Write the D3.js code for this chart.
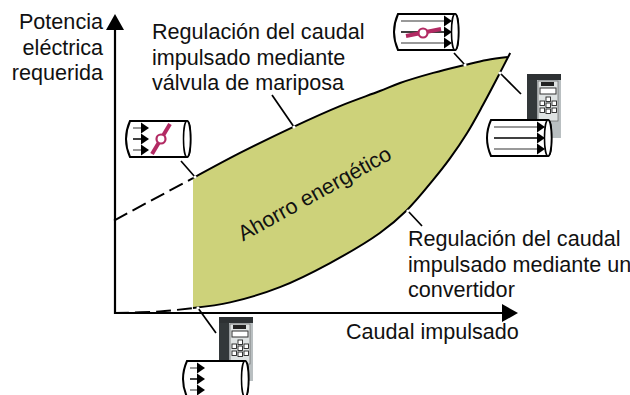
<!DOCTYPE html>
<html>
<head>
<meta charset="utf-8">
<script src="https://d3js.org/d3.v7.min.js"></script>
<style>
body { margin: 0; background: #fff; }
text { font-family: "Liberation Sans", Arial, sans-serif; font-size: 21.6px; fill: #111; }
</style>
</head>
<body>
<svg id="chart" width="630" height="395"></svg>
<script>
// values (flow %, power %)
const valveFlow = [0, 20, 31.9, 45.3, 57.2, 67.3, 72.4, 80.8, 88.9, 94.4, 99.7];
const valvePower = [35.7, 52.1, 61.8, 71.8, 79.9, 85.7, 88.8, 92.7, 95.8, 97.7, 98.8];
const driveFlow = [0, 11.6, 20, 29.4, 42, 54.7, 67.3, 74.2, 80.8, 85.1, 89.4, 93.4, 97.7, 100.3];
const drivePower = [0, 0.6, 1.9, 4.1, 10, 19.3, 30.9, 39.8, 51.4, 59.8, 69.5, 80.3, 92.7, 100.4];
const startFlow = 20;

const svg = d3.select("#chart");
const x = d3.scaleLinear().domain([0, 100]).range([114, 509]);
const y = d3.scaleLinear().domain([0, 100]).range([313, 54]);

const valvePts = valveFlow.map((f, i) => [f, valvePower[i]]);
const drivePts = driveFlow.map((f, i) => [f, drivePower[i]]);
const line = d3.line().x(d => x(d[0])).y(d => y(d[1])).curve(d3.curveCatmullRom.alpha(0.5));

// energy saving area, closed between the two curves
const solidValve = valvePts.filter(d => d[0] >= startFlow);
const solidDrive = drivePts.filter(d => d[0] >= startFlow);
const upperPath = line(solidValve);
const lowerBack = line(solidDrive.slice().reverse());
svg.append("path")
    .attr("d", upperPath + "L" + lowerBack.slice(1) + "Z")
    .attr("fill", "#cdd27a");

// curves
const curve = (pts, dash) => svg.append("path")
    .attr("d", line(pts))
    .attr("fill", "none")
    .attr("stroke", "#000")
    .attr("stroke-width", 2)
    .attr("stroke-dasharray", dash);
curve(solidValve, null);
curve(solidDrive, null);
curve(valvePts.filter(d => d[0] <= startFlow), "15 6");
curve(drivePts.filter(d => d[0] <= startFlow), "15 6");

// axes
const stroke = (a, b, w) => svg.append("line")
    .attr("x1", a[0]).attr("y1", a[1]).attr("x2", b[0]).attr("y2", b[1])
    .attr("stroke", "#000").attr("stroke-width", w || 2);
stroke([115, 314], [115, 28], 2.2);
stroke([114, 313], [505, 313], 2.2);
svg.append("path").attr("d", "M115,14L124,30L106,30Z").attr("fill", "#000");
svg.append("path").attr("d", "M518,313L502,304L502,322Z").attr("fill", "#000");

// leader lines with a white dot where they touch the curve
function leader(a, b) {
    stroke(a, b, 1.7);
    svg.append("circle").attr("cx", b[0]).attr("cy", b[1]).attr("r", 1.6).attr("fill", "#fff");
}
leader([181, 161], [195, 177]);
leader([454, 53], [465, 65]);
leader([521, 94], [500, 73]);
leader([216, 333], [198, 308]);
leader([272, 95], [294, 127]);
leader([422, 226], [408, 211]);

// frequency converter
function inverter(px, py) {
    const c = svg.append("g").attr("transform", `translate(${px},${py})`);
    c.append("rect").attr("width", 34).attr("height", 64).attr("fill", "#b9bfc1");
    c.append("rect").attr("width", 34).attr("height", 6).attr("fill", "#2d3133");
    c.append("rect").attr("y", 6).attr("width", 10).attr("height", 46).attr("fill", "#33383a");
    c.append("rect").attr("x", 11).attr("y", 7).attr("width", 20).attr("height", 40)
        .attr("fill", "#dfe3e3").attr("stroke", "#666").attr("stroke-width", 0.7);
    c.append("rect").attr("x", 14).attr("y", 8).attr("width", 13).attr("height", 4).attr("fill", "#222");
    c.append("rect").attr("x", 13).attr("y", 14).attr("width", 16).attr("height", 6)
        .attr("fill", "#fff").attr("stroke", "#333");
    [[13, 27], [19, 23], [25, 27], [19, 29], [13, 34], [19, 35], [25, 34]].forEach(k => {
        c.append("rect").attr("x", k[0]).attr("y", k[1]).attr("width", 4.5).attr("height", 4.5)
            .attr("fill", "#fff").attr("stroke", "#222").attr("stroke-width", 0.9);
    });
}

// pipe with three flow arrows
function pipe(px, py, w, arrowLen) {
    const h = 36, g = svg.append("g").attr("transform", `translate(${px},${py})`);
    g.append("path")
        .attr("d", `M5,0L${w - 4},0A3.5,${h / 2} 0 0 1 ${w - 4},${h}L5,${h}Q-3,${h / 2} 5,0Z`)
        .attr("fill", "#fff").attr("stroke", "#000").attr("stroke-width", 2);
    g.append("ellipse").attr("cx", w - 4).attr("cy", h / 2).attr("rx", 3.5).attr("ry", h / 2)
        .attr("fill", "#fff").attr("stroke", "#000").attr("stroke-width", 1.5);
    [7, 18, 29].forEach((ay, i) => {
        g.append("line").attr("x1", 8).attr("x2", 8 + arrowLen).attr("y1", ay).attr("y2", ay)
            .attr("stroke", i === 1 ? "#000" : "#777").attr("stroke-width", 1.5);
        g.append("path")
            .attr("d", `M${8 + arrowLen + 8},${ay}L${8 + arrowLen},${ay - 5.5}L${8 + arrowLen},${ay + 5.5}Z`)
            .attr("fill", "#000");
    });
    return g;
}

function valve(g, a, b, c) {
    g.append("line").attr("x1", a[0]).attr("y1", a[1]).attr("x2", b[0]).attr("y2", b[1])
        .attr("stroke", "#b22a63").attr("stroke-width", 4);
    g.append("circle").attr("cx", c[0]).attr("cy", c[1]).attr("r", 4.5)
        .attr("fill", "#fff").attr("stroke", "#b22a63").attr("stroke-width", 2.2);
}

valve(pipe(125, 121, 66, 8), [27, 33], [45, 3], [36, 18]);
valve(pipe(393, 14, 66, 43), [13, 22], [48, 15], [30, 19]);
inverter(527, 74);
pipe(486, 120, 66, 43);
inverter(219, 317);
pipe(182, 361, 67, 7);

// text
const label = (lines, px, py, anchor) => {
    const t = svg.append("text").attr("text-anchor", anchor || "start");
    lines.forEach((s, i) => t.append("tspan").attr("x", px).attr("y", py + i * 25.5).text(s));
};
label(["Potencia", "eléctrica", "requerida"], 103, 29, "end");
label(["Regulación del caudal", "impulsado mediante", "válvula de mariposa"], 152, 39);
label(["Regulación del caudal", "impulsado mediante un", "convertidor"], 408, 246);
label(["Caudal impulsado"], 346, 339);
svg.append("text")
    .attr("text-anchor", "middle")
    .attr("transform", "translate(318,200) rotate(-29)")
    .text("Ahorro energético");
</script>
</body>
</html>
